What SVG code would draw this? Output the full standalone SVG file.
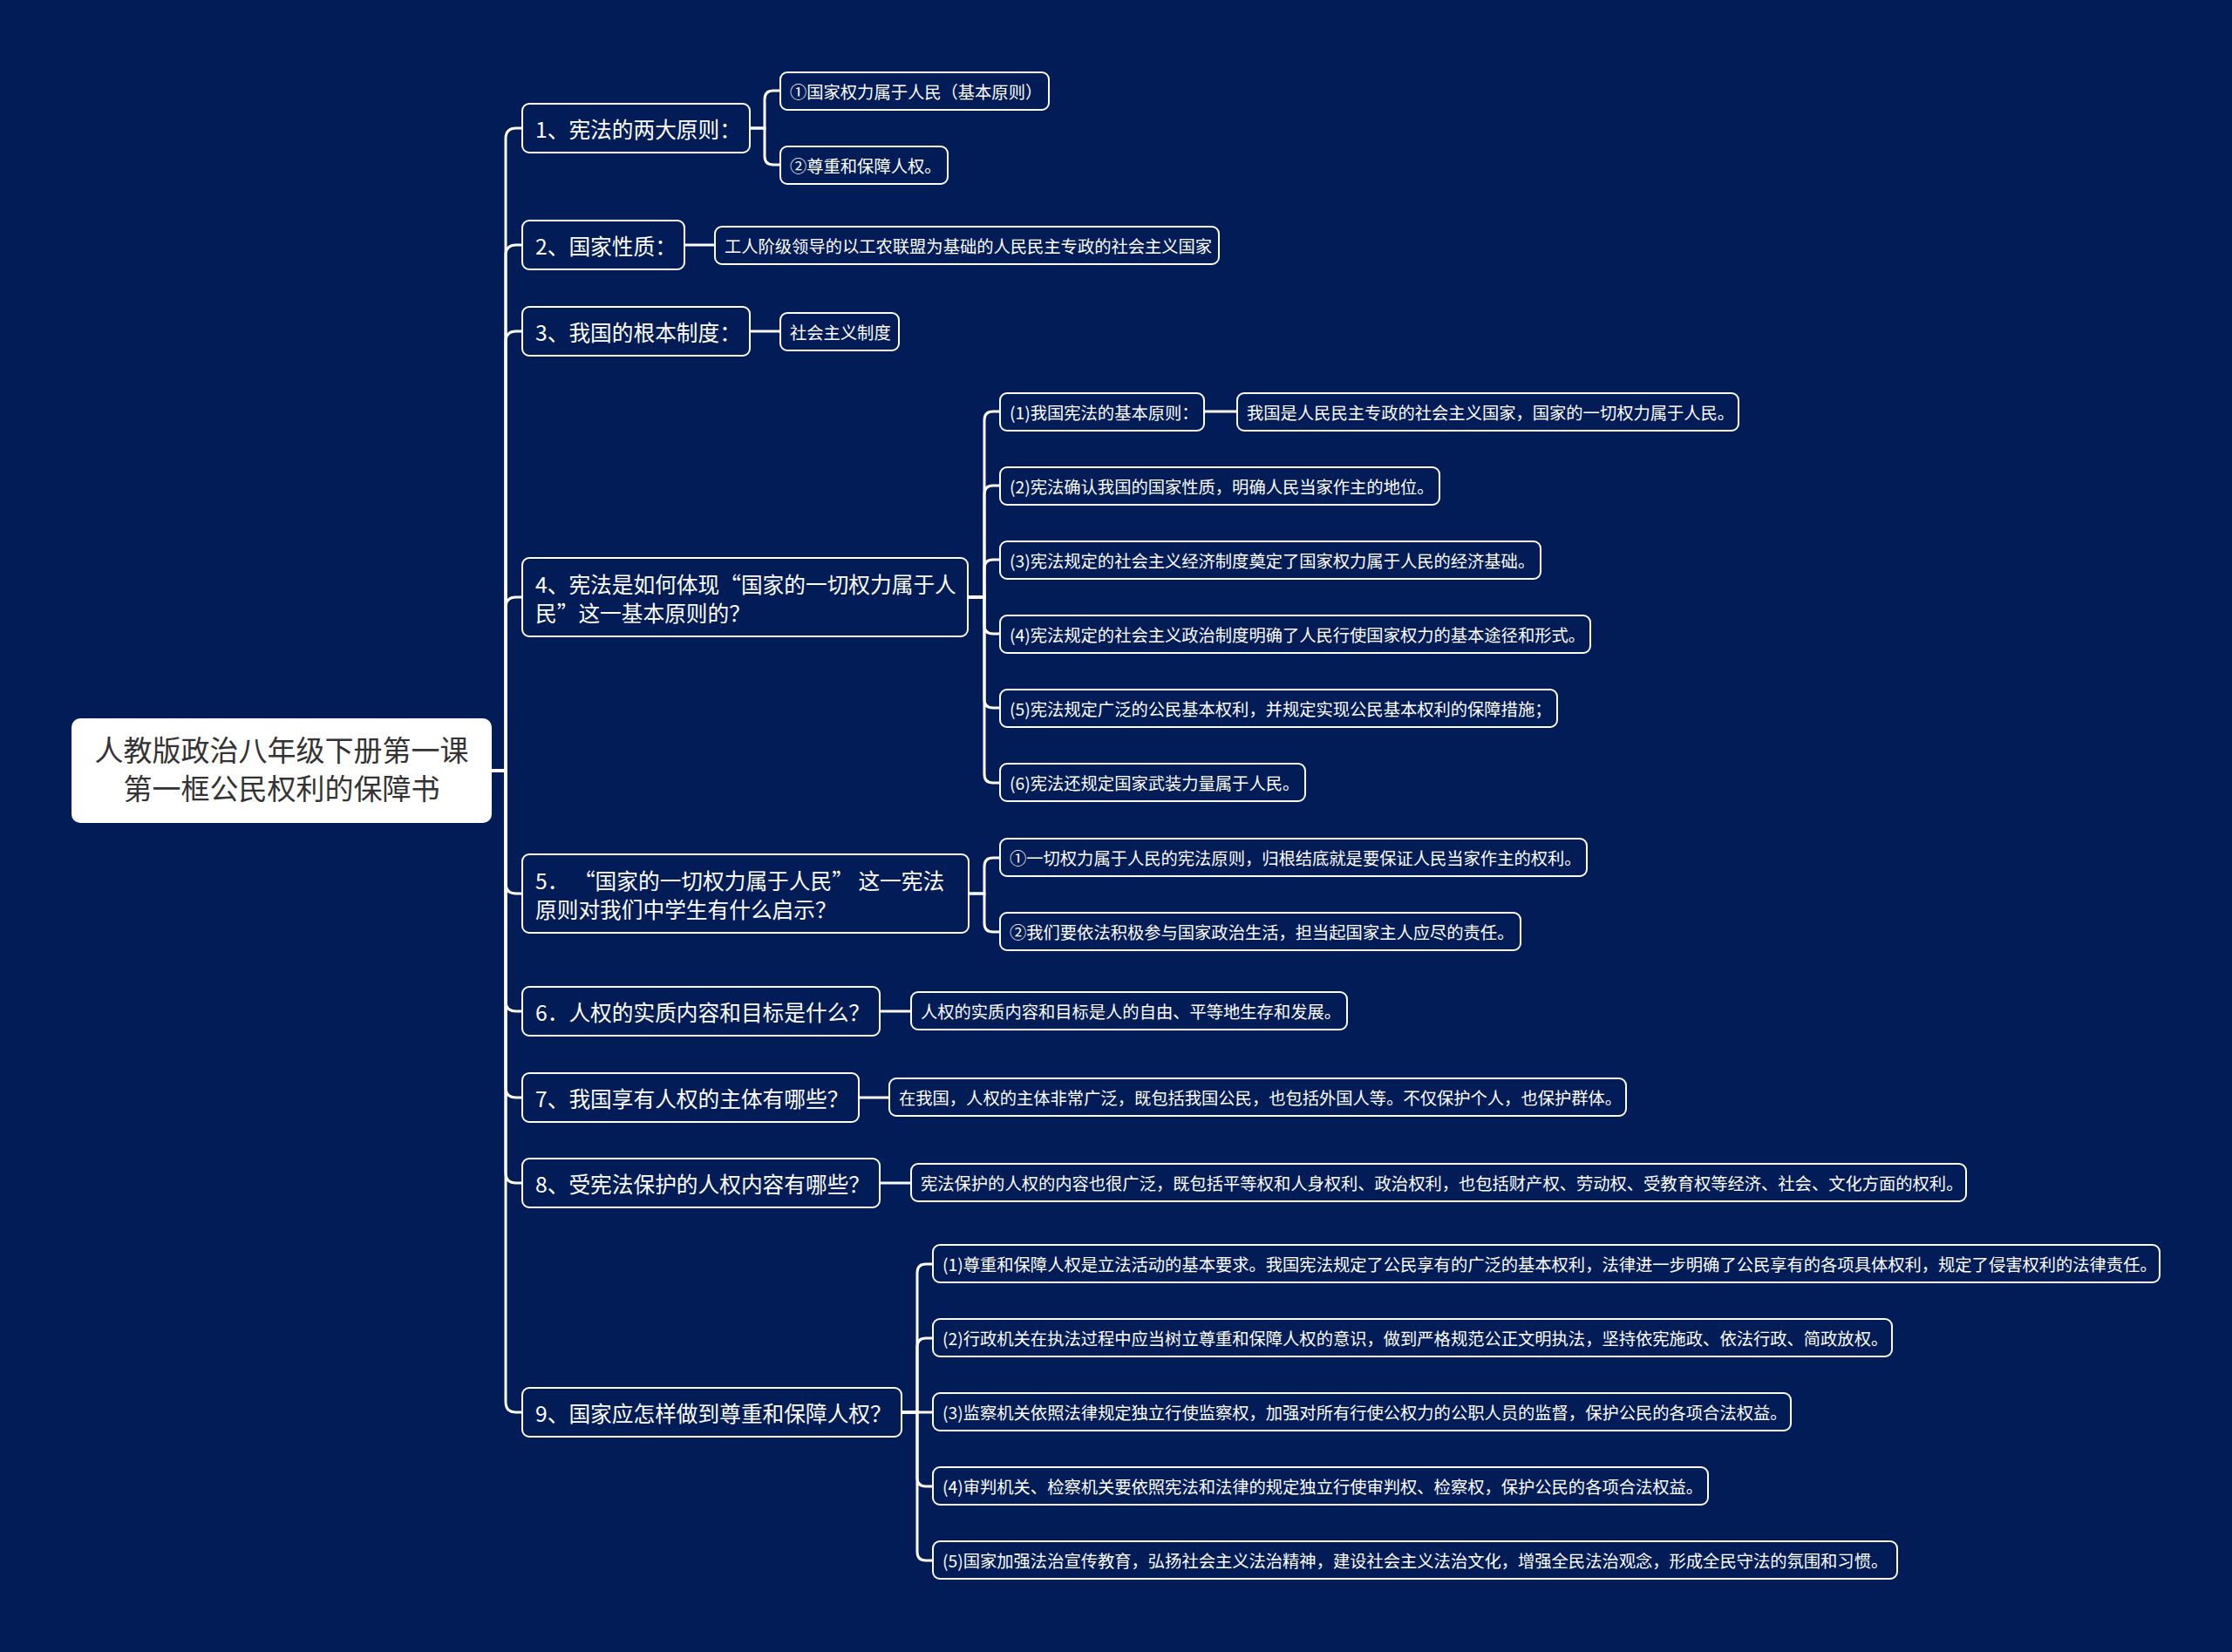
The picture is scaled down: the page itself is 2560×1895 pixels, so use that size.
<svg xmlns="http://www.w3.org/2000/svg" width="2560" height="1895" viewBox="0 0 2560 1895">
<style>
.bg{fill:#021c57}
.box{fill:#021c57;stroke:#ffffff;stroke-width:2}
.root{fill:#ffffff}
.conn{fill:none;stroke:#ffffff;stroke-width:3}
text{font-family:"Noto Sans CJK SC","Noto Sans",sans-serif;dominant-baseline:central}
.t0{font-size:33px;fill:#333333;text-anchor:middle}
.t1{font-size:24.7px;fill:#ffffff}
.t2{font-size:19.3px;fill:#ffffff}
</style>
<rect class="bg" x="0" y="0" width="2560" height="1895"/>
<g id="connectors">
<path class="conn" d="M564 884 H580 V159 Q580 147 592 147 H599"/>
<path class="conn" d="M564 884 H580 V293 Q580 281 592 281 H599"/>
<path class="conn" d="M564 884 H580 V392 Q580 380 592 380 H599"/>
<path class="conn" d="M564 884 H580 V697 Q580 685 592 685 H599"/>
<path class="conn" d="M564 884 H580 V1013 Q580 1025 592 1025 H599"/>
<path class="conn" d="M564 884 H580 V1148 Q580 1160 592 1160 H599"/>
<path class="conn" d="M564 884 H580 V1247 Q580 1259 592 1259 H599"/>
<path class="conn" d="M564 884 H580 V1345 Q580 1357 592 1357 H599"/>
<path class="conn" d="M564 884 H580 V1608 Q580 1620 592 1620 H599"/>
<path class="conn" d="M860 147 H877 V114 Q877 104 887 104 H895"/>
<path class="conn" d="M860 147 H877 V179 Q877 189 887 189 H895"/>
<path class="conn" d="M785 281 H820"/>
<path class="conn" d="M860 380 H895"/>
<path class="conn" d="M1110 685 H1129 V482 Q1129 472 1139 472 H1147"/>
<path class="conn" d="M1110 685 H1129 V567 Q1129 557 1139 557 H1147"/>
<path class="conn" d="M1110 685 H1129 V652 Q1129 642 1139 642 H1147"/>
<path class="conn" d="M1110 685 H1129 V717 Q1129 727 1139 727 H1147"/>
<path class="conn" d="M1110 685 H1129 V802 Q1129 812 1139 812 H1147"/>
<path class="conn" d="M1110 685 H1129 V888 Q1129 898 1139 898 H1147"/>
<path class="conn" d="M1381 472 H1419"/>
<path class="conn" d="M1111 1025 H1129 V994 Q1129 984 1139 984 H1147"/>
<path class="conn" d="M1111 1025 H1129 V1059 Q1129 1069 1139 1069 H1147"/>
<path class="conn" d="M1009 1160 H1045"/>
<path class="conn" d="M985 1259 H1020"/>
<path class="conn" d="M1009 1357 H1045"/>
<path class="conn" d="M1034 1620 H1052 V1460 Q1052 1450 1062 1450 H1070"/>
<path class="conn" d="M1034 1620 H1052 V1545 Q1052 1535 1062 1535 H1070"/>
<path class="conn" d="M1034 1620 H1070"/>
<path class="conn" d="M1034 1620 H1052 V1695 Q1052 1705 1062 1705 H1070"/>
<path class="conn" d="M1034 1620 H1052 V1780 Q1052 1790 1062 1790 H1070"/>
</g>
<g id="root">
<rect class="root" x="82" y="824" width="482" height="120" rx="10"/>
<text class="t0" x="323" y="859">人教版政治八年级下册第一课</text>
<text class="t0" x="323" y="903">第一框公民权利的保障书</text>
</g>
<g id="n1"><rect class="box" x="599" y="119" width="261" height="56" rx="8"/><text class="t1" x="614" y="147">1、宪法的两大原则：</text></g>
<g id="n1a"><rect class="box" x="895" y="83" width="308" height="43" rx="8"/><text class="t2" x="906" y="104.5">①国家权力属于人民（基本原则）</text></g>
<g id="n1b"><rect class="box" x="895" y="168" width="192" height="43" rx="8"/><text class="t2" x="906" y="189.5">②尊重和保障人权。</text></g>
<g id="n2"><rect class="box" x="599" y="253" width="186" height="56" rx="8"/><text class="t1" x="614" y="281">2、国家性质：</text></g>
<g id="n2a"><rect class="box" x="820" y="260" width="578" height="43" rx="8"/><text class="t2" x="831" y="281.5">工人阶级领导的以工农联盟为基础的人民民主专政的社会主义国家</text></g>
<g id="n3"><rect class="box" x="599" y="352" width="261" height="56" rx="8"/><text class="t1" x="614" y="380">3、我国的根本制度：</text></g>
<g id="n3a"><rect class="box" x="895" y="359" width="136" height="43" rx="8"/><text class="t2" x="906" y="380.5">社会主义制度</text></g>
<g id="n4"><rect class="box" x="599" y="640" width="511" height="90" rx="8"/><text class="t1" x="614" y="669">4、宪法是如何体现“国家的一切权力属于人</text><text class="t1" x="614" y="702">民”这一基本原则的？</text></g>
<g id="n4-1"><rect class="box" x="1147" y="451" width="234" height="43" rx="8"/><text class="t2" x="1158" y="472.5">(1)我国宪法的基本原则：</text></g>
<g id="n4-1-1"><rect class="box" x="1419" y="451" width="575" height="43" rx="8"/><text class="t2" x="1430" y="472.5">我国是人民民主专政的社会主义国家，国家的一切权力属于人民。</text></g>
<g id="n4-2"><rect class="box" x="1147" y="536" width="504" height="43" rx="8"/><text class="t2" x="1158" y="557.5">(2)宪法确认我国的国家性质，明确人民当家作主的地位。</text></g>
<g id="n4-3"><rect class="box" x="1147" y="621" width="620" height="43" rx="8"/><text class="t2" x="1158" y="642.5">(3)宪法规定的社会主义经济制度奠定了国家权力属于人民的经济基础。</text></g>
<g id="n4-4"><rect class="box" x="1147" y="706" width="677" height="43" rx="8"/><text class="t2" x="1158" y="727.5">(4)宪法规定的社会主义政治制度明确了人民行使国家权力的基本途径和形式。</text></g>
<g id="n4-5"><rect class="box" x="1147" y="791" width="639" height="43" rx="8"/><text class="t2" x="1158" y="812.5">(5)宪法规定广泛的公民基本权利，并规定实现公民基本权利的保障措施；</text></g>
<g id="n4-6"><rect class="box" x="1147" y="876" width="350" height="43" rx="8"/><text class="t2" x="1158" y="897.5">(6)宪法还规定国家武装力量属于人民。</text></g>
<g id="n5"><rect class="box" x="599" y="980" width="512" height="90" rx="8"/><text class="t1" x="614" y="1009">5．  “国家的一切权力属于人民” 这一宪法</text><text class="t1" x="614" y="1042">原则对我们中学生有什么启示？</text></g>
<g id="n5-1"><rect class="box" x="1147" y="962" width="673" height="43" rx="8"/><text class="t2" x="1158" y="983.5">①一切权力属于人民的宪法原则，归根结底就是要保证人民当家作主的权利。</text></g>
<g id="n5-2"><rect class="box" x="1147" y="1047" width="597" height="43" rx="8"/><text class="t2" x="1158" y="1068.5">②我们要依法积极参与国家政治生活，担当起国家主人应尽的责任。</text></g>
<g id="n6"><rect class="box" x="599" y="1132" width="410" height="56" rx="8"/><text class="t1" x="614" y="1160">6．人权的实质内容和目标是什么？</text></g>
<g id="n6-1"><rect class="box" x="1045" y="1138" width="500" height="43" rx="8"/><text class="t2" x="1056" y="1159.5">人权的实质内容和目标是人的自由、平等地生存和发展。</text></g>
<g id="n7"><rect class="box" x="599" y="1231" width="386" height="56" rx="8"/><text class="t1" x="614" y="1259">7、我国享有人权的主体有哪些？</text></g>
<g id="n7-1"><rect class="box" x="1020" y="1237" width="845" height="43" rx="8"/><text class="t2" x="1031" y="1258.5">在我国，人权的主体非常广泛，既包括我国公民，也包括外国人等。不仅保护个人，也保护群体。</text></g>
<g id="n8"><rect class="box" x="599" y="1329" width="410" height="56" rx="8"/><text class="t1" x="614" y="1357">8、受宪法保护的人权内容有哪些？</text></g>
<g id="n8-1"><rect class="box" x="1045" y="1335" width="1210" height="43" rx="8"/><text class="t2" x="1056" y="1356.5">宪法保护的人权的内容也很广泛，既包括平等权和人身权利、政治权利，也包括财产权、劳动权、受教育权等经济、社会、文化方面的权利。</text></g>
<g id="n9"><rect class="box" x="599" y="1592" width="435" height="56" rx="8"/><text class="t1" x="614" y="1620">9、国家应怎样做到尊重和保障人权？</text></g>
<g id="n9-1"><rect class="box" x="1070" y="1428" width="1407" height="43" rx="8"/><text class="t2" x="1081" y="1449.5">(1)尊重和保障人权是立法活动的基本要求。我国宪法规定了公民享有的广泛的基本权利，法律进一步明确了公民享有的各项具体权利，规定了侵害权利的法律责任。</text></g>
<g id="n9-2"><rect class="box" x="1070" y="1513" width="1100" height="43" rx="8"/><text class="t2" x="1081" y="1534.5">(2)行政机关在执法过程中应当树立尊重和保障人权的意识，做到严格规范公正文明执法，坚持依宪施政、依法行政、简政放权。</text></g>
<g id="n9-3"><rect class="box" x="1070" y="1598" width="984" height="43" rx="8"/><text class="t2" x="1081" y="1619.5">(3)监察机关依照法律规定独立行使监察权，加强对所有行使公权力的公职人员的监督，保护公民的各项合法权益。</text></g>
<g id="n9-4"><rect class="box" x="1070" y="1683" width="889" height="43" rx="8"/><text class="t2" x="1081" y="1704.5">(4)审判机关、检察机关要依照宪法和法律的规定独立行使审判权、检察权，保护公民的各项合法权益。</text></g>
<g id="n9-5"><rect class="box" x="1070" y="1768" width="1106" height="43" rx="8"/><text class="t2" x="1081" y="1789.5">(5)国家加强法治宣传教育，弘扬社会主义法治精神，建设社会主义法治文化，增强全民法治观念，形成全民守法的氛围和习惯。</text></g>
</svg>
